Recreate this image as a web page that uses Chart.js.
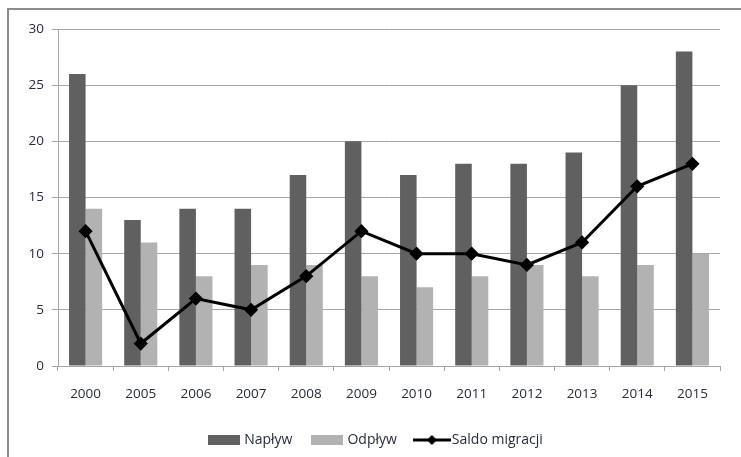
<!DOCTYPE html>
<html lang="pl">
<head>
  <meta charset="UTF-8" />
  <title>Migracje</title>
  <script src="https://cdn.jsdelivr.net/npm/chart.js@4.4.1/dist/chart.umd.min.js"></script>
  <style>
    body { margin: 0; background: #fff; }
    .wrap { position: relative; width: 741px; height: 457px; overflow: hidden; }
    .frame {
      position: absolute; left: 7px; top: 8px; width: 760px; height: 470px;
      border-left: 2px solid #8c8c8c; border-top: 2px solid #8c8c8c; box-sizing: border-box; pointer-events: none;
    }
    canvas { position: absolute; left: 0; top: 0; }
  </style>
</head>
<body>
<div class="wrap">
  <canvas id="chart" width="741" height="457"></canvas>
  <div class="frame"></div>
</div>
<script>
  const years = ['2000', '2005', '2006', '2007', '2008', '2009', '2010', '2011', '2012', '2013', '2014', '2015'];
  const naplyw = [26, 13, 14, 14, 17, 20, 17, 18, 18, 19, 25, 28];
  const odplyw = [14, 11, 8, 9, 9, 8, 7, 8, 9, 8, 9, 10];
  const saldo = [12, 2, 6, 5, 8, 12, 10, 10, 9, 11, 16, 18];

  const txt = '#262b36';
  const grid = '#a6a6a6';

  function boxIcon(color) {
    const c = document.createElement('canvas');
    c.width = 32; c.height = 10;
    const g = c.getContext('2d');
    g.fillStyle = color;
    g.fillRect(0, 0, 32, 10);
    return c;
  }

  function lineIcon() {
    const c = document.createElement('canvas');
    c.width = 38; c.height = 10;
    const g = c.getContext('2d');
    g.strokeStyle = '#000';
    g.lineWidth = 3;
    g.beginPath(); g.moveTo(0, 5); g.lineTo(38, 5); g.stroke();
    g.fillStyle = '#000';
    g.beginPath(); g.moveTo(19, 0); g.lineTo(24, 5); g.lineTo(19, 10); g.lineTo(14, 5); g.closePath(); g.fill();
    return c;
  }

  const icons = [boxIcon('#606060'), boxIcon('#b2b2b2'), lineIcon()];

  // legend in the original sits a bit right of the canvas centre
  const shiftLegend = {
    id: 'shiftLegend',
    afterLayout(chart) {
      chart.legend.left += 17;
      chart.legend.right += 17;
    }
  };

  new Chart(document.getElementById('chart'), {
    data: {
      labels: years,
      datasets: [
        { type: 'bar', label: 'Napływ', data: naplyw, backgroundColor: '#606060', order: 2,
          categoryPercentage: 0.6, barPercentage: 1 },
        { type: 'bar', label: 'Odpływ', data: odplyw, backgroundColor: '#b2b2b2', order: 2,
          categoryPercentage: 0.6, barPercentage: 1 },
        { type: 'line', label: 'Saldo migracji', data: saldo, borderColor: '#000', backgroundColor: '#000',
          borderWidth: 3, pointStyle: 'rectRot', pointRadius: 5, tension: 0, order: 0 }
      ]
    },
    plugins: [shiftLegend],
    options: {
      responsive: false,
      animation: false,
      layout: { padding: { top: 29, right: 21, bottom: 0, left: 0 } },
      plugins: {
        tooltip: { enabled: false },
        legend: {
          position: 'bottom',
          labels: {
            usePointStyle: true,
            pointStyleWidth: 26,
            color: txt,
            font: { family: 'Open Sans', size: 14 },
            padding: 22,
            generateLabels(chart) {
              return chart.data.datasets.map((ds, i) => ({
                text: ds.label, pointStyle: icons[i], datasetIndex: i,
                fontColor: txt, lineWidth: 0, hidden: false
              }));
            }
          }
        }
      },
      scales: {
        x: {
          offset: true,
          grid: { offset: true, drawOnChartArea: false, color: grid, tickLength: 5 },
          border: { color: grid },
          ticks: { color: txt, font: { family: 'Open Sans', size: 13.5 }, padding: 15 },
          afterFit(s) { s.height = 45; }
        },
        y: {
          min: 0, max: 30,
          ticks: { stepSize: 5, color: txt, font: { family: 'Open Sans', size: 13.5 }, padding: 8 },
          grid: { color: grid, tickLength: 6 },
          border: { color: grid },
          afterFit(s) { s.width = 58; }
        }
      }
    }
  });
</script>
</body>
</html>
